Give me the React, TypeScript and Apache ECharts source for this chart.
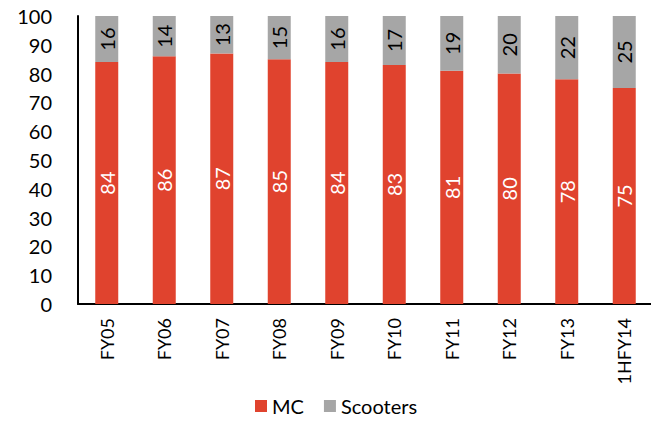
import React, { useEffect, useRef } from "react";
import * as echarts from "echarts";

const categories = ["FY05", "FY06", "FY07", "FY08", "FY09", "FY10", "FY11", "FY12", "FY13", "1HFY14"];
const mcValues = [84, 86, 87, 85, 84, 83, 81, 80, 78, 75];
const scooterValues = [16, 14, 13, 15, 16, 17, 19, 20, 22, 25];

const FONT = "Lato, 'DejaVu Sans', sans-serif";

export default function App() {
  const ref = useRef<HTMLDivElement>(null);
  useEffect(() => {
    if (!ref.current) return;
    const chart = echarts.init(ref.current, undefined, { renderer: "svg" });
    chart.setOption({
      animation: false,
      grid: { left: 78, right: 6, top: 16, bottom: 121, containLabel: false },
      legend: {
        bottom: 4,
        left: 250,
        itemWidth: 12,
        itemHeight: 12,
        itemGap: 20,
        icon: "rect",
        textStyle: { fontFamily: FONT, fontSize: 20, color: "#000" },
        data: ["MC", "Scooters"],
      },
      xAxis: {
        type: "category",
        data: categories,
        axisLine: { lineStyle: { color: "#000", width: 2 } },
        axisTick: { show: false },
        axisLabel: { rotate: 90, fontFamily: FONT, fontSize: 18, color: "#000", margin: 14 },
      },
      yAxis: {
        type: "value",
        min: 0,
        max: 100,
        interval: 10,
        axisLine: { show: true, lineStyle: { color: "#000", width: 2 } },
        axisTick: { show: false },
        splitLine: { show: false },
        axisLabel: { fontFamily: FONT, fontSize: 20, color: "#000", margin: 26 },
      },
      series: [
        {
          name: "MC",
          type: "bar",
          stack: "total",
          barWidth: "40%",
          data: mcValues,
          itemStyle: { color: "#E0432E" },
          label: {
            show: true,
            position: "inside",
            rotate: 90,
            fontFamily: FONT,
            fontSize: 20,
            color: "#fff",
          },
        },
        {
          name: "Scooters",
          type: "bar",
          stack: "total",
          barWidth: "40%",
          data: scooterValues,
          itemStyle: { color: "#A6A6A6" },
          label: {
            show: true,
            position: "inside",
            rotate: 90,
            fontFamily: FONT,
            fontSize: 20,
            color: "#000",
          },
        },
      ],
    });
    return () => chart.dispose();
  }, []);
  return <div ref={ref} style={{ width: 659, height: 425, margin: -8 }} />;
}
